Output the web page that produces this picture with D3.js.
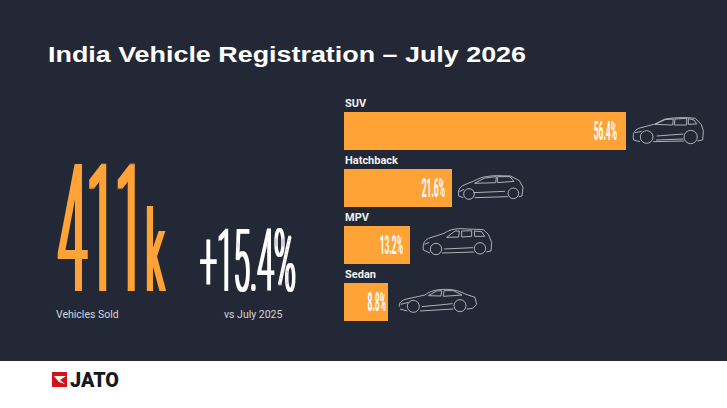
<!DOCTYPE html>
<html>
<head>
<meta charset="utf-8">
<style>
html, body { margin: 0; padding: 0; background: #232836; overflow: hidden; }
svg { display: block; }
text { font-family: Roboto, "Liberation Sans", sans-serif; }
</style>
<script src="https://cdn.jsdelivr.net/npm/d3@7"></script>
</head>
<body>
<div id="chart"></div>
<script>
const categories = ["SUV", "Hatchback", "MPV", "Sedan"]
const shares = [56.4, 21.6, 13.2, 8.8]
const shareLabels = ["56.4%", "21.6%", "13.2%", "8.8%"]
const titleText = "India Vehicle Registration – July 2026"
const soldNumber = "411"
const soldUnit = "k"
const soldCaption = "Vehicles Sold"
const changeText = "+15.4%"
const changeCaption = "vs July 2025"

const width = 727
const height = 408
const orange = "#ffa337"
const navy = "#232836"

// gap between the label and the end of the bar
const labelInsets = [9, 7, 7, 2]

// car outlines, traced at 3x, drawn relative to the bar's top right corner
const carPaths = [
    "M881,150 C877,132 882,122 896,115 L945,102 L975,87 C1000,83 1040,81 1066,85 L1084,104 L1090,122 L1088,150 L1072,153 M1032,153 L940,155 M900,155 L881,150 M945,103 L975,89 L1000,87 L998,105 Z M1005,87 L1040,85 L1040,105 L1003,105 Z M1045,86 L1062,90 L1070,102 L1045,103 Z M950,138 L1030,132 M948,150 L1030,147 M885,128 L905,124",
    "M356,318 C354,300 358,292 372,285 L402,273 C420,262 440,258 470,257 L512,258 L538,272 L549,292 L546,318 L536,320 M503,320 L404,323 M370,323 L356,318 M404,280 L434,264 L469,260 L467,278 Z M473,260 L510,260 L522,274 L472,278 Z M400,308 L495,304 M358,305 L372,298",
    "M250,135 C248,118 252,106 266,100 L312,85 C325,76 340,71 360,71 L430,74 L445,88 L455,112 L453,138 L438,141 M402,141 L306,144 M270,144 L250,135 M320,97 L345,78 L358,78 L356,96 Z M365,78 L395,77 L395,94 L365,96 Z M403,78 L425,80 L434,94 L404,94 Z M312,132 L400,128 M253,118 L268,112",
    "M178,305 C176,293 186,285 200,282 L255,270 C270,258 290,253 320,253 C345,253 362,260 378,268 L405,277 L410,298 L398,310 L380,312 M340,312 L240,318 M202,318 L180,312 M265,272 L290,258 L305,257 L303,273 Z M312,257 L340,257 L366,270 L310,274 Z M245,305 L338,296 M182,298 L205,292"
]
const carWheels = [
    [[920, 141, 19], [1052, 141, 20]],
    [[387, 312, 16], [520, 310, 16]],
    [[288, 132, 17], [420, 130, 17]],
    [[220, 304, 18], [360, 302, 18]]
]
const carOrigins = [[858, 66], [336, 237], [210, 63], [144, 234]]

const svg = d3.select("#chart").append("svg")
    .attr("width", width)
    .attr("height", height)

// widens glyph stems only, the stretched text needs it
const defs = svg.append("defs")
const addStem = (id, r) => {
    defs.append("filter").attr("id", id)
        .attr("x", "-10%").attr("y", "-10%").attr("width", "120%").attr("height", "120%")
        .append("feMorphology")
        .attr("operator", "dilate")
        .attr("radius", r + " 0")
}
addStem("stemBig", 8)
addStem("stemUnit", 6)
addStem("stemMid", 3)

svg.append("rect").attr("width", width).attr("height", height).attr("fill", navy)
svg.append("rect").attr("y", 361).attr("width", width).attr("height", 47).attr("fill", "#ffffff")

svg.append("text")
    .attr("x", 48).attr("y", 62)
    .attr("textLength", 478).attr("lengthAdjust", "spacingAndGlyphs")
    .attr("font-size", 22).attr("font-weight", 700)
    .style("font-family", "'Liberation Sans', sans-serif")
    .attr("fill", "#ffffff")
    .text(titleText)

// condensed text: the stretch is done with a transform
const tallText = (x, y, size, sx, txt, fill, anchor, stem, weight) => {
    return svg.append("text")
        .attr("transform", `translate(${x},${y}) scale(${sx},1)`)
        .attr("font-size", size)
        .attr("font-weight", weight || 300)
        .attr("text-anchor", anchor || "start")
        .attr("filter", stem ? `url(#${stem})` : null)
        .attr("fill", fill)
        .text(txt)
}

tallText(58, 291, 178, 0.29, soldNumber, orange, "start", "stemBig")
tallText(146, 291, 113, 0.33, soldUnit, orange, "start", "stemUnit")
tallText(200, 291, 88, 0.34, changeText, "#ffffff", "start", "stemMid")

svg.append("text").attr("x", 56).attr("y", 318)
    .attr("font-size", 10.5).attr("fill", "#d5d6da").text(soldCaption)
svg.append("text").attr("x", 224).attr("y", 318)
    .attr("font-size", 10.5).attr("fill", "#d5d6da").text(changeCaption)

// bars
const x = d3.scaleLinear().domain([0, d3.max(shares)]).range([344, 626])
const y = d3.scaleBand().domain(categories).range([112, 321]).paddingInner(1 / 3)

const rows = svg.append("g").selectAll("g").data(categories).enter().append("g")

rows.append("rect")
    .attr("x", x(0))
    .attr("y", d => y(d))
    .attr("width", (d, i) => x(shares[i]) - x(0))
    .attr("height", y.bandwidth())
    .attr("fill", orange)

rows.append("text")
    .attr("x", 345)
    .attr("y", d => y(d) - 5)
    .attr("font-size", 11)
    .attr("font-weight", 700)
    .attr("fill", "#f2f2f2")
    .text(d => d)

shareLabels.forEach((label, i) => {
    tallText(x(shares[i]) - labelInsets[i], y(categories[i]) + 28, 25, 0.34, label, "#ffffff", "end", null, 700)
})

// car icons
categories.forEach((c, i) => {
    const car = svg.append("g")
        .attr("transform", `translate(${x(shares[i])},${y(c)}) scale(${1 / 3}) translate(${-carOrigins[i][0]},${-carOrigins[i][1]})`)
        .attr("fill", "none")
        .attr("stroke", "#b9babf")
        .attr("stroke-width", 2.8)
    car.append("path").attr("d", carPaths[i])
    carWheels[i].forEach(w => {
        car.append("circle").attr("cx", w[0]).attr("cy", w[1]).attr("r", w[2])
    })
})

// logo
svg.append("rect").attr("x", 52).attr("y", 372).attr("width", 15).attr("height", 15).attr("fill", "#d5121c")
svg.append("path").attr("d", "M54,376 L66,376 L60,380 L65,384 L59,382 Z").attr("fill", "#ffffff")
svg.append("text").attr("x", 70).attr("y", 386.5)
    .attr("font-size", 19.5).attr("font-weight", 900)
    .attr("fill", "#17181c")
    .attr("textLength", 49).attr("lengthAdjust", "spacingAndGlyphs")
    .text("JATO")
</script>
</body>
</html>
